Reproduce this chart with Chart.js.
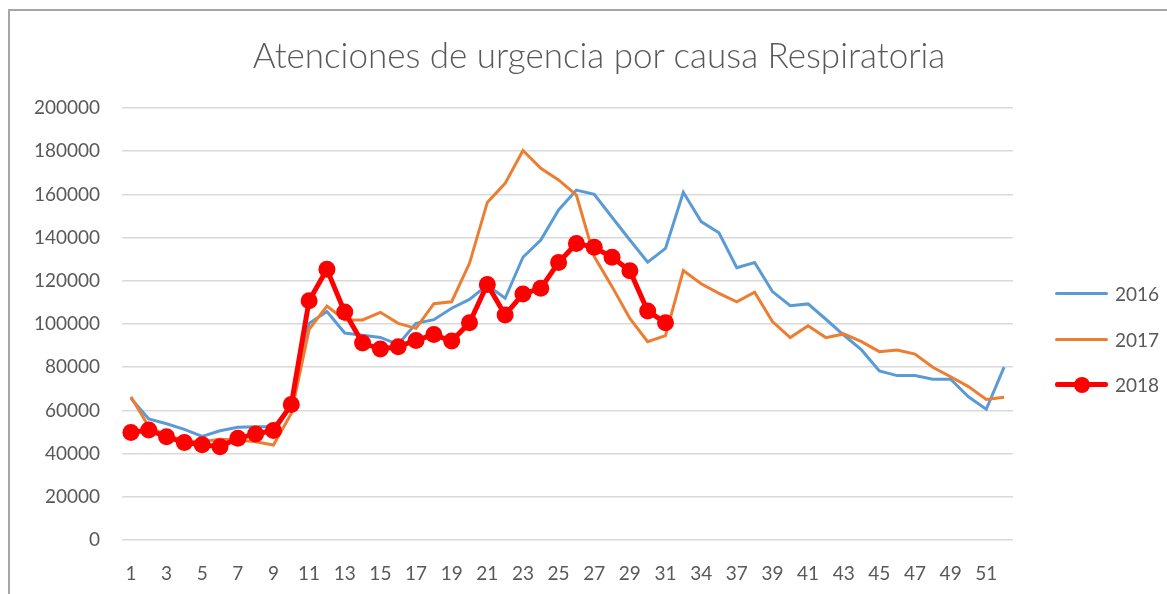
<!DOCTYPE html>
<html>
<head>
<meta charset="utf-8">
<script src="https://cdn.jsdelivr.net/npm/chart.js@4"></script>
<style>
    body { margin: 0; background: #fff; }
    #wrap { position: relative; width: 1167px; height: 594px; overflow: hidden; font-family: Lato, sans-serif; }
    #frame { position: absolute; left: 8px; top: 9px; width: 1300px; height: 700px; border-left: 2px solid #a6a6a6; border-top: 2px solid #a6a6a6; }
    #title { position: absolute; left: 0; width: 1198px; top: 33px; text-align: center; font-size: 35px; font-weight: 300; color: #595959; line-height: 42px; }
    .leg { position: absolute; left: 1055px; height: 20px; }
    .leg .ln { position: absolute; left: 0; width: 53px; border-radius: 2px; }
    .leg .dot { position: absolute; left: 19px; top: 2px; width: 16px; height: 16px; border-radius: 50%; background: #ff0000; }
    .leg span { position: absolute; left: 60px; top: -2px; font-size: 19px; color: #595959; }
    canvas { position: absolute; left: 0; top: 0; }
</style>
</head>
<body>
<div id="wrap">
    <div id="frame"></div>
    <canvas id="chart" width="1167" height="594"></canvas>
    <div id="title">Atenciones de urgencia por causa Respiratoria</div>
    <div class="leg" style="top:284px"><div class="ln" style="top:8px;height:3px;background:#5b9bd5"></div><span>2016</span></div>
    <div class="leg" style="top:330px"><div class="ln" style="top:8px;height:3px;background:#ed7d31"></div><span>2017</span></div>
    <div class="leg" style="top:375px"><div class="ln" style="top:7px;height:5px;background:#ff0000"></div><div class="dot"></div><span>2018</span></div>
</div>
<script>
// week numbers as they appear on the axis (some weeks missing in the source)
const weekLabels = [1, 2, 3, 4, 5, 6, 7, 8, 9, 10, 11, 12, 13, 14, 15, 16, 17, 18, 19, 20,
    21, 22, 23, 24, 25, 26, 27, 28, 29, 30, 31, 33, 34, 36, 37, 38, 39, 40, 41, 42,
    43, 44, 45, 46, 47, 48, 49, 50, 51, 52];

const values2016 = [65600, 56000, 53800, 51200, 48000, 50600, 52200, 52400, 52500, 62000,
    100300, 105800, 95800, 94800, 93800, 90500, 100300, 102000, 107300, 111400,
    118000, 111900, 130900, 138900, 152800, 162000, 160000, 149400, 138900, 128600,
    135000, 161000, 147400, 142200, 126100, 128500, 115000, 108500, 109300, 102200,
    94900, 88000, 78300, 76100, 76100, 74400, 74400, 66300, 60500, 80000];

const values2017 = [66300, 52500, 48500, 46000, 45500, 46600, 46300, 45500, 44000, 58600,
    97500, 108300, 101900, 101900, 105400, 100300, 98000, 109400, 110300, 128100,
    156300, 165100, 180300, 172100, 166700, 159700, 131200, 117300, 102600, 91800,
    94600, 124800, 118600, 114200, 110300, 114700, 101100, 93700, 99200, 93700,
    95400, 91800, 87200, 88000, 86100, 80000, 75600, 71000, 65100, 66100];

const values2018 = [49800, 50900, 47800, 45100, 44100, 43200, 47100, 49100, 50700, 62700,
    110800, 125300, 105500, 91200, 88400, 89500, 92400, 95100, 92100, 100600,
    118300, 104200, 113900, 116500, 128500, 137300, 135500, 130900, 124700, 106000,
    100600];

const yMin = 0;
const yMax = 200000;
const yStep = 20000;

const textGray = '#595959';
const gridGray = '#d9d9d9';

const ctx = document.getElementById('chart').getContext('2d');
new Chart(ctx, {
    type: 'line',
    data: {
        labels: weekLabels,
        datasets: [
            {
                label: '2016',
                data: values2016,
                borderColor: '#5b9bd5',
                borderWidth: 3,
                pointRadius: 0,
                tension: 0,
                order: 3
            },
            {
                label: '2017',
                data: values2017,
                borderColor: '#ed7d31',
                borderWidth: 3,
                pointRadius: 0,
                tension: 0,
                order: 2
            },
            {
                label: '2018',
                data: values2018,
                borderColor: '#ff0000',
                backgroundColor: '#ff0000',
                borderWidth: 5,
                pointRadius: 8.5,
                pointBorderWidth: 0,
                pointBackgroundColor: '#ff0000',
                tension: 0,
                order: 1
            }
        ]
    },
    options: {
        responsive: false,
        animation: false,
        layout: { padding: { left: 0, top: 108, right: 154, bottom: 0 } },
        plugins: {
            legend: { display: false },
            title: { display: false },
            tooltip: { enabled: false }
        },
        scales: {
            x: {
                offset: true,
                grid: { display: false },
                border: { display: false },
                afterFit: scale => { scale.height = 54; },
                ticks: {
                    autoSkip: false,
                    maxRotation: 0,
                    padding: 14,
                    color: textGray,
                    font: { family: 'Lato', size: 19 },
                    callback: (value, index) => index % 2 === 0 ? String(weekLabels[index]) : ''
                }
            },
            y: {
                min: yMin,
                max: yMax,
                grid: { color: gridGray, lineWidth: 1.5, drawTicks: false },
                border: { display: false },
                afterFit: scale => { scale.width = 122; },
                ticks: {
                    stepSize: yStep,
                    padding: 22,
                    color: textGray,
                    font: { family: 'Lato', size: 19 },
                    callback: value => String(value)
                }
            }
        }
    }
});
</script>
</body>
</html>
